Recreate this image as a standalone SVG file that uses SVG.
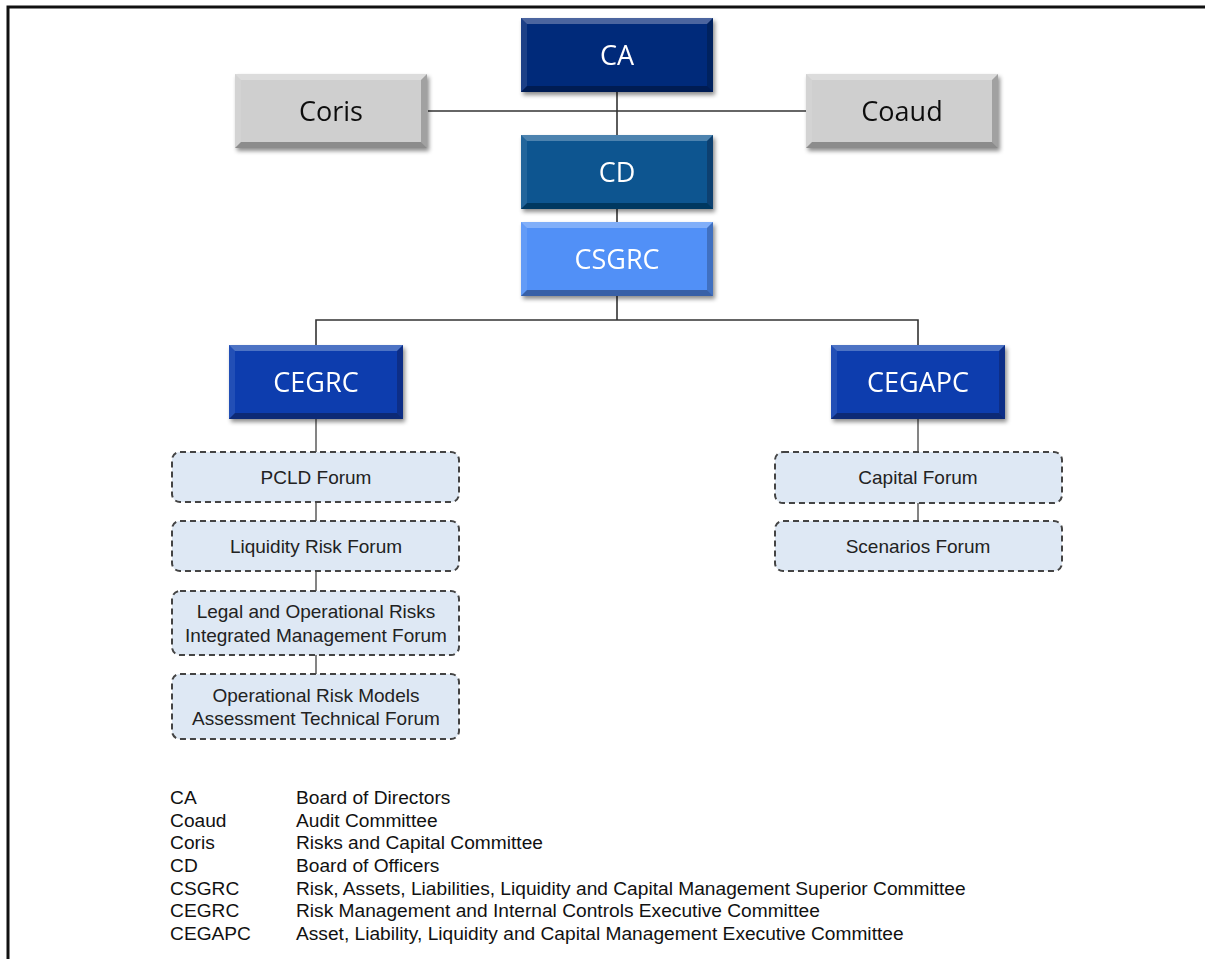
<svg xmlns="http://www.w3.org/2000/svg" width="1205" height="959" viewBox="0 0 1205 959">
<style>
.frame{fill:none;stroke:#111;stroke-width:3}
.link{fill:none;stroke:#333;stroke-width:1.6}
.flink{fill:none;stroke:#666;stroke-width:1.6}
.box{filter:url(#sh)}
.ca{fill:#062A7A}
.cd{fill:#0A5490}
.cs{fill:#5190F7}
.ce{fill:#0B3DAE}
.gr{fill:#CFCFCF}
.hl{fill:#fff;fill-opacity:.28}
.hs{fill:#fff;fill-opacity:.1}
.dk{fill:#000;fill-opacity:.32}
.ds{fill:#000;fill-opacity:.22}
.lbl{font-family:"Open Sans","Noto Sans",sans-serif;font-size:27px;text-anchor:middle;fill:#fff}
.lbl.dark{fill:#111}
.forum{fill:#DEE8F4;stroke:#444;stroke-width:2;stroke-dasharray:6 4}
.ft{font-family:"Liberation Sans",Arial,sans-serif;font-size:19px;text-anchor:middle;fill:#222}
.lg{font-family:"Liberation Sans",Arial,sans-serif;font-size:17.5px;fill:#111}
</style>
<defs>
<filter id="sh" x="-10%" y="-10%" width="125%" height="135%">
<feDropShadow dx="2" dy="3" stdDeviation="2" flood-color="#000" flood-opacity="0.45"/>
</filter>
<g id="bevA">
<polygon class="hl" points="0,0 192,0 186,6 6,6"/>
<polygon class="hs" points="0,0 6,6 6,68 0,74"/>
<polygon class="ds" points="192,0 192,74 186,68 186,6"/>
<polygon class="dk" points="0,74 192,74 186,68 6,68"/>
</g>
<g id="bevB">
<polygon class="hl" points="0,0 174,0 168,6 6,6"/>
<polygon class="hs" points="0,0 6,6 6,68 0,74"/>
<polygon class="ds" points="174,0 174,74 168,68 168,6"/>
<polygon class="dk" points="0,74 174,74 168,68 6,68"/>
</g>
</defs>
<rect width="1205" height="959" fill="#fff"/>
<path class="frame" d="M8,959 V7 H1205"/>

<g id="connectors">
<path class="link" d="M617,92 V135"/>
<path class="link" d="M428,111 H806"/>
<path class="link" d="M617,209 V222"/>
<path class="link" d="M617,296 V320 M316,345 V320 H918 V345"/>
<path class="flink" d="M316,419 V452 M316,502 V521 M316,571 V591 M316,655 V674"/>
<path class="flink" d="M918,419 V452 M918,503 V521"/>
</g>

<g id="CA" class="box">
<rect class="ca" x="521" y="18" width="192" height="74"/>
<use href="#bevA" x="521" y="18"/>
<text class="lbl" x="617" y="65">CA</text>
</g>
<g id="Coris" class="box">
<rect class="gr" x="235" y="74" width="192" height="74"/>
<use href="#bevA" x="235" y="74"/>
<text class="lbl dark" x="331" y="120.5">Coris</text>
</g>
<g id="Coaud" class="box">
<rect class="gr" x="806" y="74" width="192" height="74"/>
<use href="#bevA" x="806" y="74"/>
<text class="lbl dark" x="902" y="120.5">Coaud</text>
</g>
<g id="CD" class="box">
<rect class="cd" x="521" y="135" width="192" height="74"/>
<use href="#bevA" x="521" y="135"/>
<text class="lbl" x="617" y="182">CD</text>
</g>
<g id="CSGRC" class="box">
<rect class="cs" x="521" y="222" width="192" height="74"/>
<use href="#bevA" x="521" y="222"/>
<text class="lbl" x="617" y="269">CSGRC</text>
</g>
<g id="CEGRC" class="box">
<rect class="ce" x="229" y="345" width="174" height="74"/>
<use href="#bevB" x="229" y="345"/>
<text class="lbl" x="316" y="392">CEGRC</text>
</g>
<g id="CEGAPC" class="box">
<rect class="ce" x="831" y="345" width="174" height="74"/>
<use href="#bevB" x="831" y="345"/>
<text class="lbl" x="918" y="392">CEGAPC</text>
</g>

<g id="PCLD">
<rect class="forum" x="172" y="452" width="287" height="50" rx="8"/>
<text class="ft" x="316" y="484">PCLD Forum</text>
</g>
<g id="Liquidity">
<rect class="forum" x="172" y="521" width="287" height="50" rx="8"/>
<text class="ft" x="316" y="553">Liquidity  Risk Forum</text>
</g>
<g id="Legal">
<rect class="forum" x="172" y="591" width="287" height="64" rx="8"/>
<text class="ft" x="316" y="618">Legal and Operational Risks</text>
<text class="ft" x="316" y="642">Integrated Management Forum</text>
</g>
<g id="OpRisk">
<rect class="forum" x="172" y="674" width="287" height="65" rx="8"/>
<text class="ft" x="316" y="701.5">Operational Risk Models</text>
<text class="ft" x="316" y="725">Assessment Technical Forum</text>
</g>
<g id="Capital">
<rect class="forum" x="775" y="452" width="287" height="51" rx="8"/>
<text class="ft" x="918" y="484">Capital Forum</text>
</g>
<g id="Scenarios">
<rect class="forum" x="775" y="521" width="287" height="50" rx="8"/>
<text class="ft" x="918" y="553">Scenarios Forum</text>
</g>

<g id="legend" transform="scale(1.095 1)">
<text class="lg" x="155.3" y="804">CA</text><text class="lg" x="270.3" y="804">Board of Directors</text>
<text class="lg" x="155.3" y="826.7">Coaud</text><text class="lg" x="270.3" y="826.7">Audit Committee</text>
<text class="lg" x="155.3" y="849.3">Coris</text><text class="lg" x="270.3" y="849.3">Risks and Capital Committee</text>
<text class="lg" x="155.3" y="872">CD</text><text class="lg" x="270.3" y="872">Board of Officers</text>
<text class="lg" x="155.3" y="894.7">CSGRC</text><text class="lg" x="270.3" y="894.7">Risk, Assets, Liabilities, Liquidity and Capital Management Superior Committee</text>
<text class="lg" x="155.3" y="917.3">CEGRC</text><text class="lg" x="270.3" y="917.3">Risk Management and Internal Controls Executive Committee</text>
<text class="lg" x="155.3" y="940">CEGAPC</text><text class="lg" x="270.3" y="940">Asset, Liability, Liquidity and Capital Management Executive Committee</text>
</g>
</svg>
